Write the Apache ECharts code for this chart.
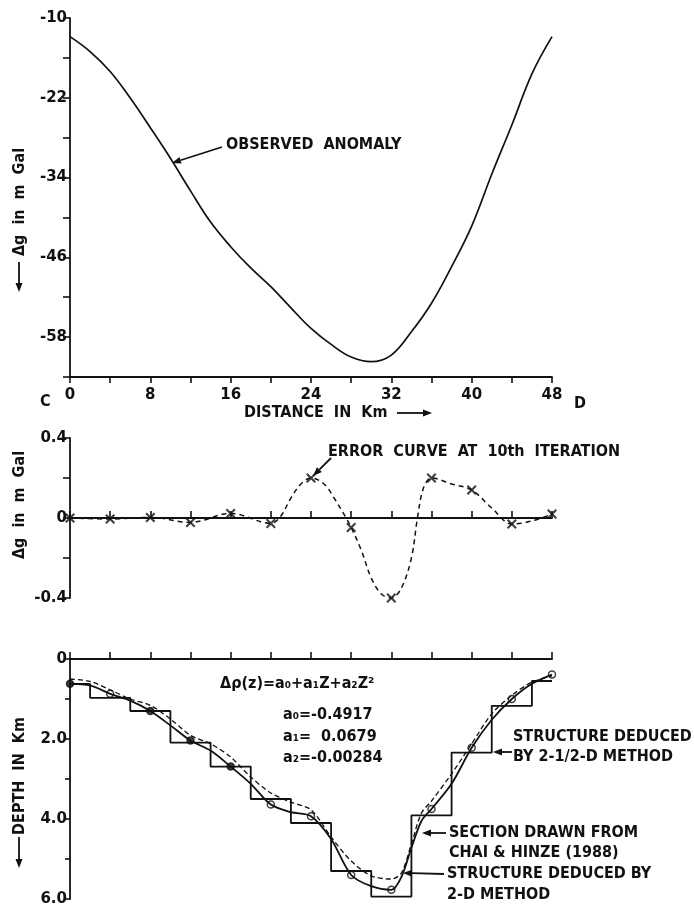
<!DOCTYPE html>
<html>
<head>
<meta charset="utf-8">
<script src="https://cdn.jsdelivr.net/npm/echarts@6/dist/echarts.min.js"></script>
<style>
  html, body { margin: 0; padding: 0; background: #fff; }
  #chart { width: 694px; height: 908px; }
</style>
</head>
<body>
<div id="chart"></div>
<script>
// observed anomaly, distance in km / mGal
const anomalyKm = [0, 2, 4, 6, 8, 10, 12, 14, 16, 18, 20, 22, 24, 26, 28, 30, 32, 34, 36, 38, 40, 42, 44, 46, 48];
const anomalyVal = [-12.8, -15.05, -18.05, -22.05, -26.5, -31.1, -36.0, -40.7, -44.4, -47.6, -50.4, -53.6, -56.7,
  -59.1, -61.0, -61.7, -60.7, -57.2, -52.9, -47.4, -41.3, -33.5, -26.1, -18.4, -12.8];

// error curve at 10th iteration
const errMarkKm = [0, 4, 8, 12, 16, 20, 24, 28, 32, 36, 40, 44, 48];
const errMarkVal = [0, -0.005, 0.003, -0.022, 0.023, -0.027, 0.2, -0.047, -0.4, 0.2, 0.14, -0.03, 0.02];
const errCurveKm = [0, 4, 8, 12, 16, 20, 21, 22, 23, 24, 25.3, 26.3, 27.5, 28, 29, 30, 31, 32, 33, 34, 34.6, 35.2, 36, 38, 40, 42, 44, 46, 48];
const errCurveVal = [0, -0.005, 0.003, -0.022, 0.023, -0.027, 0.01, 0.1, 0.17, 0.2, 0.17, 0.1, 0, -0.047, -0.16,
  -0.3, -0.38, -0.4, -0.35, -0.2, 0, 0.15, 0.2, 0.17, 0.14, 0.05, -0.03, -0.015, 0.02];

// depth sections (km)
const stepKm = [0, 4, 8, 12, 16, 20, 24, 28, 32, 36, 40, 44, 48];
const stepDepth = [0.62, 0.97, 1.3, 2.09, 2.69, 3.5, 4.1, 5.3, 5.94, 3.91, 2.34, 1.17, 0.55];
const solidKm = [0, 2, 4, 6, 8, 10, 12, 14, 16, 18, 20, 22, 24, 26, 28, 30, 32, 33, 34, 35, 36, 38, 40, 42, 44, 46, 48];
const solidDepth = [0.62, 0.66, 0.87, 1.04, 1.3, 1.66, 2.04, 2.29, 2.69, 3.12, 3.64, 3.83, 3.93, 4.5, 5.4, 5.68,
  5.77, 5.45, 4.72, 4.05, 3.75, 3.12, 2.22, 1.52, 1.0, 0.62, 0.39];
const chaiKm = [0, 2, 4, 6, 8, 10, 12, 14, 16, 18, 20, 22, 24, 26, 28, 30, 32, 33, 34, 35, 36, 38, 40, 42, 44, 46, 48];
const chaiDepth = [0.5, 0.56, 0.77, 1.0, 1.16, 1.5, 1.91, 2.12, 2.45, 2.95, 3.35, 3.58, 3.77, 4.45, 5.05, 5.42,
  5.5, 5.35, 4.62, 3.85, 3.55, 2.87, 2.12, 1.37, 0.91, 0.58, 0.42];
const filledAt = [0, 8, 12, 16];

const INK = '#111';
const FONT = '"DejaVu Sans Condensed", "DejaVu Sans", sans-serif';
const TXT = 'bold 16px ' + FONT;
const pairs = (xs, ys) => xs.map((x, i) => [x, ys[i]]);

function arrow(x1, y1, x2, y2) {
  const a = Math.atan2(y2 - y1, x2 - x1);
  const L = 9, W = 3.5;
  const bx = x2 - L * Math.cos(a), by = y2 - L * Math.sin(a);
  return [
    { type: 'line', shape: { x1, y1, x2: bx, y2: by }, style: { stroke: INK, lineWidth: 1.8 } },
    { type: 'polygon', shape: { points: [[x2, y2],
      [bx + W * Math.sin(a), by - W * Math.cos(a)], [bx - W * Math.sin(a), by + W * Math.cos(a)]] },
      style: { fill: INK } }
  ];
}

function label(text, x, y) {
  return {
    type: 'text', x, y,
    style: { text, fill: INK, font: TXT, textAlign: 'left', textVerticalAlign: 'middle' }
  };
}

function vlabel(text, x, y) {
  return {
    type: 'text', x, y, rotation: Math.PI / 2,
    style: { text, fill: INK, font: TXT, textAlign: 'center', textVerticalAlign: 'middle' }
  };
}

const axisLine = { show: true, onZero: false, lineStyle: { color: INK, width: 1.8 } };
const tickStyle = { color: INK, width: 1.6 };
const tickLabel = { color: INK, fontSize: 15, fontWeight: 'bold', fontFamily: '"DejaVu Sans", sans-serif', margin: 3 };

const chart = echarts.init(document.getElementById('chart'), null, { renderer: 'canvas' });

const graphics = [
  label('OBSERVED  ANOMALY', 226, 145),
  ...arrow(222, 147, 172, 163),
  label('C', 40, 402),
  label('D', 574, 404),
  label('DISTANCE  IN  Km', 244, 413),
  ...arrow(397, 413, 432, 413),
  vlabel('\u0394g  in  m  Gal', 20, 202),
  ...arrow(19, 262, 19, 292),
  label('ERROR  CURVE  AT  10th  ITERATION', 328, 452),
  ...arrow(331, 458, 313, 476),
  vlabel('\u0394g  in  m  Gal', 20, 505),
  vlabel('DEPTH  IN  Km', 20, 776),
  ...arrow(19, 837, 19, 868),
  label('\u0394\u03c1(z)=a\u2080+a\u2081Z+a\u2082Z\u00b2', 220, 684),
  label('a\u2080=-0.4917', 283, 715),
  label('a\u2081=  0.0679', 283, 737),
  label('a\u2082=-0.00284', 283, 758),
  label('STRUCTURE DEDUCED', 513, 737),
  label('BY 2-1/2-D METHOD', 513, 757),
  ...arrow(512, 752, 493, 752),
  label('SECTION DRAWN FROM', 449, 833),
  label('CHAI & HINZE (1988)', 449, 853),
  ...arrow(446, 833, 422, 833),
  label('STRUCTURE DEDUCED BY', 447, 874),
  label('2-D METHOD', 447, 895),
  ...arrow(444, 874, 403, 873)
];

const option = {
  backgroundColor: '#fff',
  animation: false,
  textStyle: { fontFamily: FONT, color: INK },
  grid: [
    { left: 70, top: 18, width: 482, height: 359 },
    { left: 70, top: 438, width: 482, height: 160 },
    { left: 70, top: 659, width: 482, height: 240 }
  ],
  xAxis: [
    {
      gridIndex: 0, type: 'value', min: 0, max: 48, interval: 4,
      axisLine, splitLine: { show: false },
      axisTick: { length: 6, lineStyle: tickStyle },
      axisLabel: Object.assign({}, tickLabel, { margin: 11, formatter: v => (v % 8 === 0 ? String(v) : '') })
    },
    {
      gridIndex: 1, type: 'value', min: 0, max: 48, interval: 4,
      axisLine: { show: true, onZero: true, lineStyle: { color: INK, width: 1.8 } },
      splitLine: { show: false },
      axisTick: { inside: true, length: 7, lineStyle: tickStyle },
      axisLabel: { show: false }
    },
    {
      gridIndex: 2, type: 'value', position: 'top', min: 0, max: 48, interval: 4,
      axisLine, splitLine: { show: false },
      axisTick: { length: 7, lineStyle: tickStyle },
      axisLabel: { show: false }
    }
  ],
  yAxis: [
    {
      gridIndex: 0, type: 'value', min: -64, max: -10, interval: 6,
      axisLine, splitLine: { show: false },
      axisTick: { length: 7, lineStyle: tickStyle },
      axisLabel: Object.assign({}, tickLabel, { formatter: v => ((v + 10) % 12 === 0 ? String(v) : '') })
    },
    {
      gridIndex: 1, type: 'value', min: -0.4, max: 0.4, interval: 0.2,
      axisLine, splitLine: { show: false },
      axisTick: { length: 7, lineStyle: tickStyle },
      axisLabel: Object.assign({}, tickLabel, {
        formatter: v => (Math.abs(v) < 1e-9 ? '0' : Math.abs(v) > 0.3 ? v.toFixed(1) : '')
      })
    },
    {
      gridIndex: 2, type: 'value', inverse: true, min: 0, max: 6, interval: 1,
      axisLine, splitLine: { show: false },
      axisTick: { length: 5, lineStyle: tickStyle },
      axisLabel: Object.assign({}, tickLabel, {
        formatter: v => (v === 0 ? '0' : v % 2 === 0 ? v.toFixed(1) : '')
      })
    }
  ],
  series: [
    {
      name: 'Observed anomaly', type: 'line', xAxisIndex: 0, yAxisIndex: 0,
      data: pairs(anomalyKm, anomalyVal), smooth: 0.4, showSymbol: false,
      lineStyle: { color: INK, width: 1.7 }
    },
    {
      name: 'Error curve', type: 'line', xAxisIndex: 1, yAxisIndex: 1,
      data: pairs(errCurveKm, errCurveVal), smooth: 0.35, showSymbol: false,
      lineStyle: { color: INK, width: 1.5, type: [5, 4] }
    },
    {
      name: 'Error points', type: 'scatter', xAxisIndex: 1, yAxisIndex: 1,
      data: pairs(errMarkKm, errMarkVal),
      symbol: 'path://M0,1.5L1.5,0L5,3.5L8.5,0L10,1.5L6.5,5L10,8.5L8.5,10L5,6.5L1.5,10L0,8.5L3.5,5Z',
      symbolSize: 10, itemStyle: { color: INK }
    },
    {
      name: '2-1/2-D structure', type: 'line', xAxisIndex: 2, yAxisIndex: 2,
      data: pairs(stepKm, stepDepth), step: 'middle', showSymbol: false,
      lineStyle: { color: INK, width: 1.8 }
    },
    {
      name: 'Chai & Hinze (1988)', type: 'line', xAxisIndex: 2, yAxisIndex: 2,
      data: pairs(chaiKm, chaiDepth), smooth: 0.3, showSymbol: false,
      lineStyle: { color: INK, width: 1.3, type: [5, 3] }
    },
    {
      name: '2-D structure', type: 'line', xAxisIndex: 2, yAxisIndex: 2,
      data: pairs(solidKm, solidDepth), smooth: 0.3, showSymbol: false,
      lineStyle: { color: INK, width: 1.8 }
    },
    {
      name: '2-D points', type: 'scatter', xAxisIndex: 2, yAxisIndex: 2,
      data: pairs(solidKm, solidDepth).filter(p => p[0] % 4 === 0).map(p => ({
        value: p,
        itemStyle: { color: filledAt.includes(p[0]) ? INK : '#fff' }
      })),
      symbol: 'circle', symbolSize: 7,
      itemStyle: { borderColor: INK, borderWidth: 1.5 }
    }
  ],
  graphic: graphics
};

chart.setOption(option);
</script>
</body>
</html>
